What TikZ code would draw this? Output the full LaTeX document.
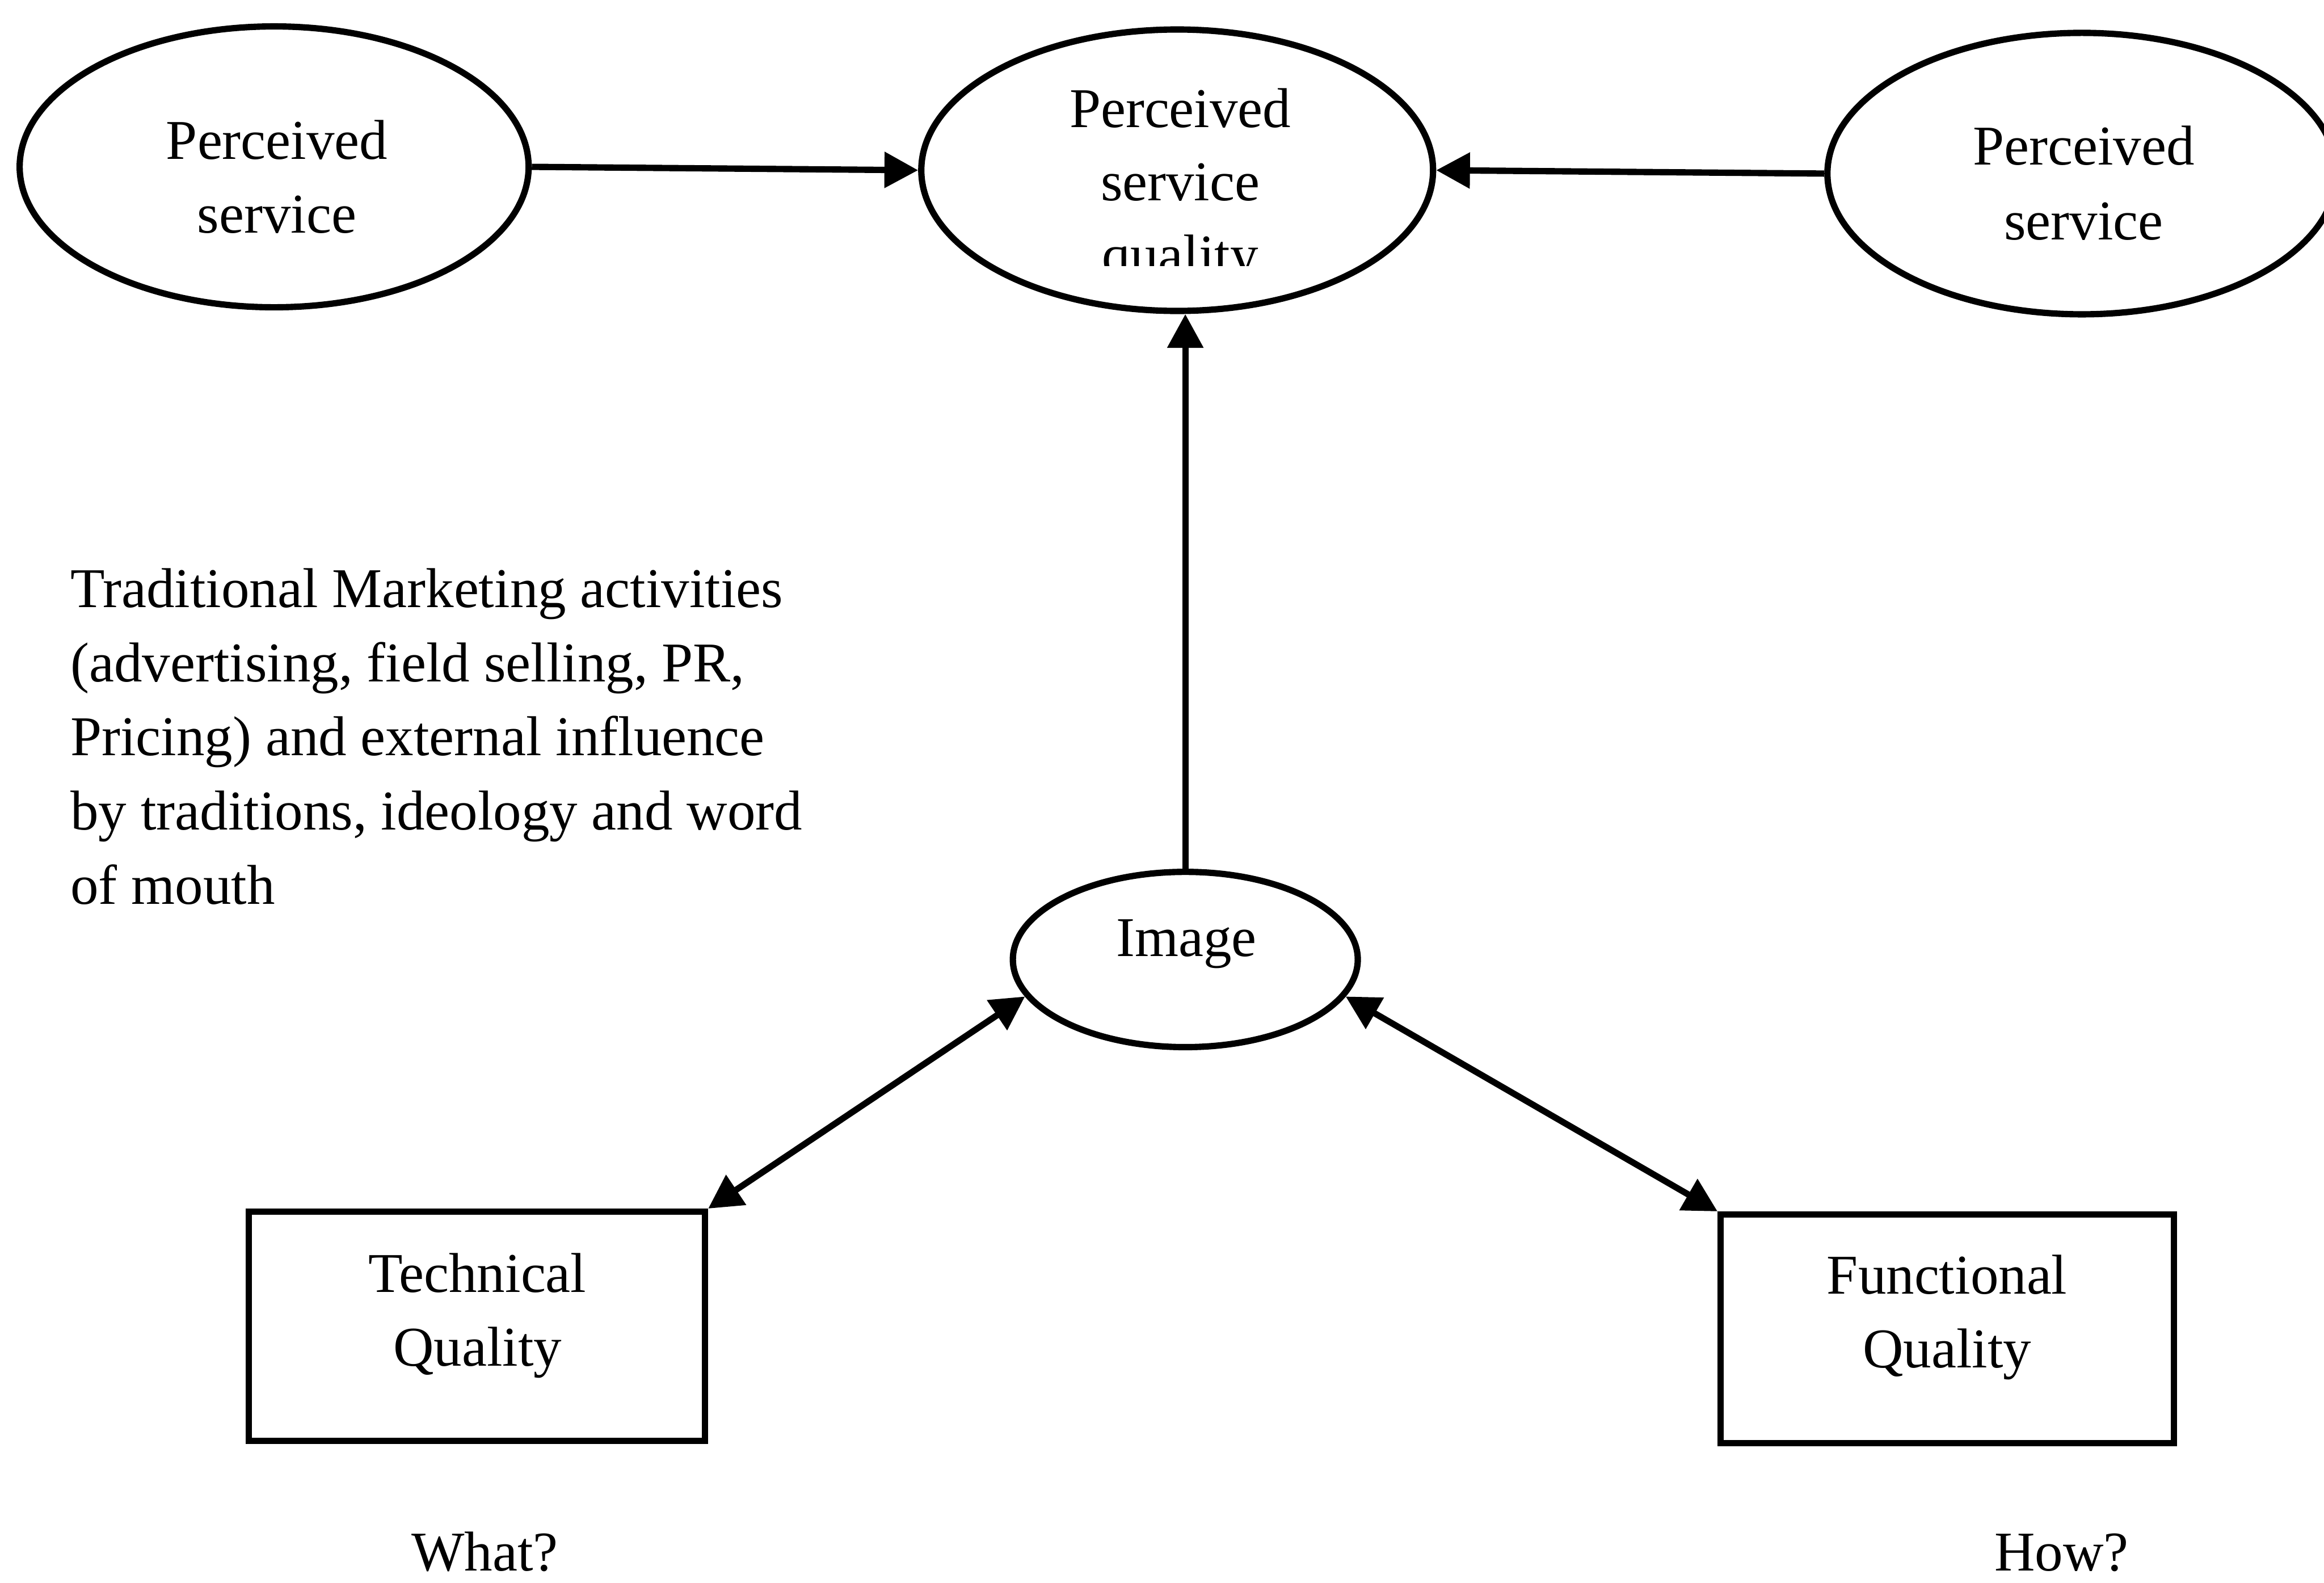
\documentclass[tikz,border=0pt]{standalone}
\usepackage{fontspec}
\setmainfont{Liberation Serif}
\usetikzlibrary{shapes.geometric,arrows.meta}
\newcommand\figfont{\fontsize{28.45pt}{37.5pt}\selectfont}
\tikzset{
  oval/.style={draw, ellipse, line width=3.2pt, inner sep=0pt},
  qbox/.style={draw, rectangle, line width=3.2pt, inner sep=0pt},
  txt/.style={inner sep=0pt, anchor=base, font=\figfont},
  para/.style={inner sep=0pt, anchor=base west, font=\figfont},
  conn/.style={line width=3.2pt, -{Triangle[length=0.6cm,width=0.62cm]}},
  twoway/.style={line width=3.2pt, {Triangle[length=0.6cm,width=0.62cm]}-{Triangle[length=0.6cm,width=0.62cm]}},
}
\begin{document}
\begin{tikzpicture}
  \useasboundingbox (0,0) rectangle (41.37,-28.17);

  % ellipses
  \node[oval, minimum width=9.06cm, minimum height=5cm] (ps1) at (4.88,-2.97) {};
  \node[oval, minimum width=9.11cm, minimum height=5.01cm] (psq) at (20.955,-3.03) {};
  \node[oval, minimum width=9.06cm, minimum height=5.01cm] (ps2) at (37.06,-3.09) {};
  \node[oval, minimum width=6.14cm, minimum height=3.12cm] (img) at (21.10,-17.08) {};

  % quality boxes
  \node[qbox, minimum width=8.12cm, minimum height=4.08cm] (tq) at (8.49,-23.61) {};
  \node[qbox, minimum width=8.07cm, minimum height=4.07cm] (fq) at (34.665,-23.655) {};

  % labels
  \node[txt] (ps1a) at (4.93,-2.83) {Perceived};
  \node[txt] (ps1b) at (4.93,-4.15) {service};
  \node[txt] (psqa) at (21.01,-2.27) {Perceived};
  \node[txt] (psqb) at (21.01,-3.57) {service};
  \begin{scope}
    \clip (18,-1) rectangle (24,-4.73);
    \node[txt] (psqc) at (21.01,-4.87) {quality};
  \end{scope}
  \node[txt] (ps2a) at (37.09,-2.93) {Perceived};
  \node[txt] (ps2b) at (37.09,-4.27) {service};
  \node[txt] (imga) at (21.12,-17.02) {Image};
  \node[txt] (tqa) at (8.50,-23.00) {Technical};
  \node[txt] (tqb) at (8.50,-24.32) {Quality};
  \node[txt] (fqa) at (34.66,-23.03) {Functional};
  \node[txt] (fqb) at (34.66,-24.35) {Quality};
  \node[txt] (what) at (8.63,-27.96) {What?};
  \node[txt] (how) at (36.70,-27.96) {How?};

  % marketing text
  \node[para] (m1) at (1.25,-10.81) {Traditional Marketing activities};
  \node[para] (m2) at (1.25,-12.13) {(advertising, field selling, PR,};
  \node[para] (m3) at (1.25,-13.45) {Pricing) and external influence};
  \node[para] (m4) at (1.25,-14.77) {by traditions, ideology and word};
  \node[para] (m5) at (1.25,-16.09) {of mouth};

  % connectors
  \draw[conn] (ps1.east) -- (psq.west);
  \draw[conn] (ps2.west) -- (psq.east);
  \draw[conn] (img.north) -- (img.north |- psq.south);
  \draw[twoway] (tq.north east) -- (img.193);
  \draw[twoway] (fq.north west) -- (img.347);
\end{tikzpicture}
\end{document}
